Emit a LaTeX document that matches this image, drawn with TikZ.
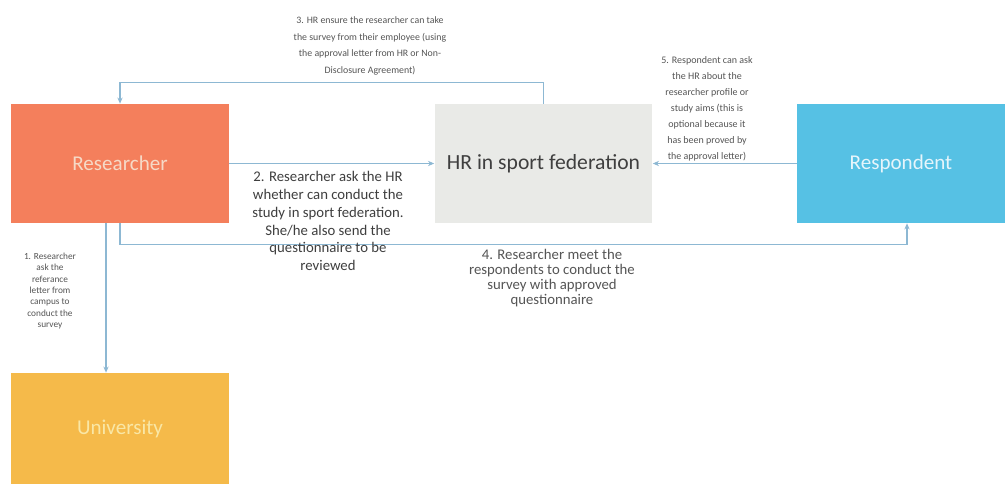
\documentclass[tikz,border=0pt]{standalone}
\usepackage{fontspec}
\setmainfont{Carlito}
\usetikzlibrary{arrows.meta}
\definecolor{resorange}{HTML}{F47F5C}
\definecolor{reslabel}{HTML}{F6D9C6}
\definecolor{hrgray}{HTML}{E9EAE7}
\definecolor{hrtext}{HTML}{3F3F3F}
\definecolor{respblue}{HTML}{56C1E4}
\definecolor{resptext}{HTML}{E6F5FB}
\definecolor{uniyellow}{HTML}{F5BA4A}
\definecolor{unitext}{HTML}{F9E7A6}
\definecolor{linkblue}{HTML}{8DB8D3}
\definecolor{notegray}{HTML}{555555}

\begin{document}
\begin{tikzpicture}[x=0.02cm, y=-0.02cm, >={Stealth[length=3.5pt,width=3pt]},
  box/.style={minimum width=4.36cm, minimum height=2.38cm, inner sep=0pt, font=\fontsize{12}{14}\selectfont},
  link/.style={->, draw=linkblue, line width=0.6pt},
  note/.style={align=center, text=notegray, inner sep=0pt}]
  \fill[white] (0,0) rectangle (1005,484);
  \node[box, fill=resorange, text=reslabel] (res) at (120,163.5) {Researcher};
  \node[box, fill=hrgray, text=hrtext, font=\fontsize{12.3}{14}\selectfont] (hr) at (543.5,163.5) {HR in sport federation};
  \node[box, fill=respblue, text=resptext, minimum width=4.16cm] (resp) at (901,163.5) {Respondent};
  \node[box, fill=uniyellow, text=unitext, minimum height=2.22cm] (uni) at (120,428.5) {University};
  % connectors
  \draw[link] ([xshift=-0.28cm]res.south) -- ([xshift=-0.28cm]uni.north);
  \draw[link] (res.east) -- (hr.west);
  \draw[link] (hr.north) -- ++(0,-21) -| (res.north);
  \draw[link] (res.south) -- ++(0,21) -| ([xshift=0.12cm]resp.south);
  \draw[link] (resp.west) -- (hr.east);
  % step notes
  \node[note, font=\fontsize{5.3}{6.5}\selectfont] (n1) at (50,291) {1. Researcher\\ask the\\referance\\letter from\\campus to\\conduct the\\survey};
  \node[note, text=hrtext, font=\fontsize{8.4}{10.2}\selectfont] (n2) at (328,221) {2. Researcher ask the HR\\whether can conduct the\\study in sport federation.\\She/he also send the\\questionnaire to be\\reviewed};
  \node[note, font=\fontsize{5.6}{9.4}\selectfont] (n3) at (370,46) {3. HR ensure the researcher can take\\the survey from their employee (using\\the approval letter from HR or Non-\\Disclosure Agreement)};
  \node[note, font=\fontsize{8.4}{8.6}\selectfont] (n4) at (552,278) {4. Researcher meet the\\respondents to conduct the\\survey with approved\\questionnaire};
  \node[note, font=\fontsize{5.7}{9.1}\selectfont] (n5) at (707,109) {5. Respondent can ask\\the HR about the\\researcher profile or\\study aims (this is\\optional because it\\has been proved by\\the approval letter)};
\end{tikzpicture}
\end{document}
